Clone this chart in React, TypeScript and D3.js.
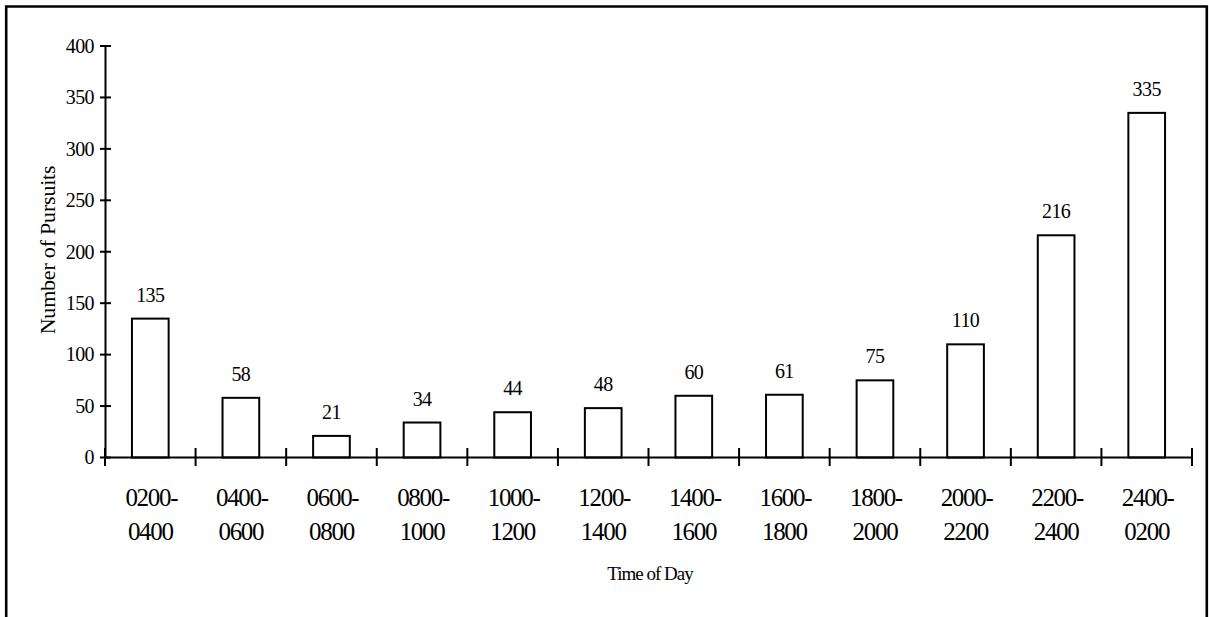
import React from "react";
import * as d3 from "d3";

const categories = [
  ["0200-", "0400"],
  ["0400-", "0600"],
  ["0600-", "0800"],
  ["0800-", "1000"],
  ["1000-", "1200"],
  ["1200-", "1400"],
  ["1400-", "1600"],
  ["1600-", "1800"],
  ["1800-", "2000"],
  ["2000-", "2200"],
  ["2200-", "2400"],
  ["2400-", "0200"],
];
const values = [135, 58, 21, 34, 44, 48, 60, 61, 75, 110, 216, 335];
const yTicks = [0, 50, 100, 150, 200, 250, 300, 350, 400];

const W = 1209;
const H = 617;
const FONT = "'Liberation Serif', 'Times New Roman', serif";

export default function App() {
  const keys = categories.map((c) => c.join(""));
  const x = d3.scaleBand<string>().domain(keys).range([105, 1192]).paddingInner(0).paddingOuter(0);
  const y = d3.scaleLinear().domain([0, 400]).range([457.5, 46]);
  const bw = x.bandwidth() * 0.405;
  const boundaries = [...keys.map((k) => x(k) as number), 1192];

  return (
    <svg
      width={W}
      height={H}
      style={{ position: "absolute", left: 0, top: 0, background: "#fff" }}
      fontFamily={FONT}
    >
      <rect x={0} y={0} width={W} height={H} fill="#fff" />
      {/* frame */}
      <path d={`M6.2,${H + 5} V6.5 H1206.8 V${H + 5}`} fill="none" stroke="#000" strokeWidth={2.6} />

      {/* bars */}
      {values.map((v, i) => {
        const cx = (x(keys[i]) as number) + x.bandwidth() / 2;
        return (
          <g key={i}>
            <rect
              x={cx - bw / 2}
              y={y(v)}
              width={bw}
              height={y(0) - y(v)}
              fill="#fff"
              stroke="#000"
              strokeWidth={2}
            />
            <text x={cx} y={y(v) - 17} textAnchor="middle" fontSize={20} letterSpacing={-0.6} fill="#000">
              {v}
            </text>
          </g>
        );
      })}

      {/* y axis */}
      <line x1={105.5} x2={105.5} y1={y(400)} y2={y(0)} stroke="#000" strokeWidth={2} />
      {yTicks.map((t) => (
        <g key={t}>
          <line x1={100} x2={111} y1={y(t)} y2={y(t)} stroke="#000" strokeWidth={2} />
          <text x={94} y={y(t)} dy="0.34em" textAnchor="end" fontSize={20} letterSpacing={-0.6} fill="#000">
            {t}
          </text>
        </g>
      ))}

      {/* x axis */}
      <line x1={105} x2={1192} y1={y(0)} y2={y(0)} stroke="#000" strokeWidth={2} />
      {boundaries.map((b, i) => (
        <line key={i} x1={b} x2={b} y1={448} y2={466} stroke="#000" strokeWidth={2} />
      ))}
      {categories.map((c, i) => {
        const cx = (x(keys[i]) as number) + x.bandwidth() / 2;
        return (
          <text key={i} textAnchor="middle" fontSize={25} letterSpacing={-1.3} fill="#000">
            <tspan x={cx + 1} y={506}>{c[0]}</tspan>
            <tspan x={cx} y={539.5}>{c[1]}</tspan>
          </text>
        );
      })}

      {/* axis titles */}
      <text x={650} y={580} textAnchor="middle" fontSize={19} letterSpacing={-1} fill="#000">
        Time of Day
      </text>
      <text
        transform="translate(54.5,250) rotate(-90)"
        textAnchor="middle"
        fontSize={22}
        letterSpacing={-0.2}
        fill="#000"
      >
        Number of Pursuits
      </text>
    </svg>
  );
}
